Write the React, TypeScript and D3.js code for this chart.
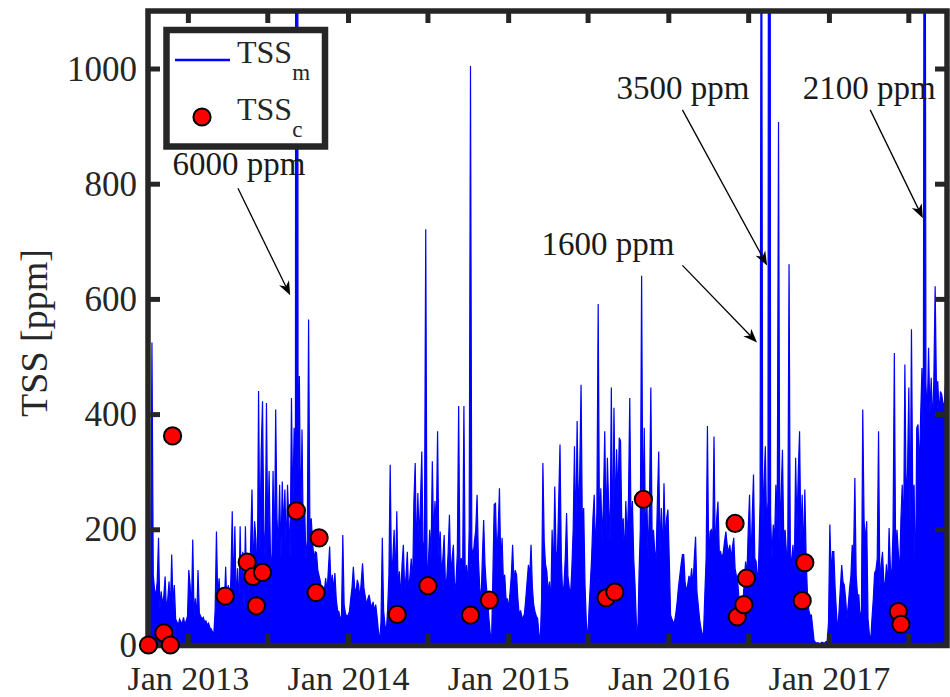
import React, { useEffect, useRef } from 'react';
import * as d3 from 'd3';

// modelled TSS (ppm), one value every 3 days starting 1 Oct 2012
const seriesStart = '2012-10-01';
const seriesStepDays = 3;

const tssM2013 = [
  100, 115, 90, 525, 122, 95, 87, 110, 186, 60,
  93, 70, 85, 119, 60, 80, 110, 58, 157, 70,
  104, 45, 40, 35, 45, 40, 38, 48, 35, 42,
  50, 130, 104, 60, 183, 50, 81, 45, 130, 55,
  50, 45, 48, 40, 42, 35, 38, 30, 28, 23,
  20, 60, 197, 80, 116, 70, 81, 100, 70, 136,
  60, 104, 45, 120, 232, 90, 206, 70, 133, 60,
  206, 80, 162, 60, 206, 90, 151, 70, 180, 270,
  120, 215, 183, 100, 441, 160, 336, 423, 200, 150,
  420, 180, 302, 160, 120, 302, 150, 409, 220, 170,
  278, 150, 284, 200, 270, 160, 278, 215, 150, 429,
  230, 377, 250, 6000, 300, 467, 200, 374, 180, 240,
  150, 180,
];
const tssM2014 = [
  565, 200, 220, 180, 150, 162, 160, 130, 120, 110,
  90, 70, 95, 116, 90, 130, 171, 100, 122, 95,
  125, 80, 60, 58, 46, 50, 191, 70, 55, 49,
  52, 58, 80, 100, 136, 99, 90, 113, 104, 80,
  110, 142, 100, 85, 70, 80, 87, 73, 65, 75,
  60, 70, 50, 25, 6, 40, 186, 60, 35, 23,
  60, 120, 313, 120, 150, 200, 110, 232, 100, 128,
  80, 140, 174, 93, 120, 162, 90, 120, 150, 100,
  250, 316, 150, 264, 180, 250, 336, 160, 180, 722,
  120, 142, 200, 150, 319, 180, 250, 200, 371, 150,
  197, 120, 150, 191, 100, 116, 160, 226, 120, 150,
  174, 90, 110, 160, 415, 130, 151, 120, 415, 110,
  139, 100,
];
const tssM2015 = [
  200, 1005, 170, 154, 180, 200, 261, 150, 100, 75,
  150, 217, 140, 104, 80, 46, 20, 6, 120, 244,
  246, 150, 200, 272, 140, 186, 110, 122, 80, 80,
  64, 90, 120, 174, 110, 130, 122, 80, 52, 60,
  50, 46, 55, 80, 110, 139, 120, 174, 100, 70,
  58, 50, 46, 20, 6, 80, 316, 180, 140, 128,
  90, 110, 70, 200, 120, 275, 162, 150, 250, 348,
  150, 87, 104, 150, 229, 120, 100, 87, 133, 200,
  345, 180, 389, 220, 302, 452, 200, 238, 104, 40,
  6, 60, 104, 150, 220, 261, 160, 230, 592, 200,
  272, 180, 250, 371, 200, 325, 240, 180, 447, 162,
  412, 220, 340, 250, 360, 354, 200, 220, 150, 250,
  180, 250,
];
const tssM2016 = [
  429, 200, 250, 150, 104, 40, 6, 120, 200, 641,
  200, 377, 180, 249, 150, 250, 447, 180, 200, 162,
  150, 250, 336, 160, 238, 150, 281, 180, 220, 235,
  150, 52, 45, 40, 40, 55, 75, 100, 120, 140,
  157, 157, 110, 93, 104, 120, 110, 133, 100, 150,
  188, 93, 70, 46, 30, 20, 17, 87, 150, 380,
  140, 197, 200, 180, 362, 150, 220, 249, 160, 162,
  151, 160, 180, 197, 174, 160, 174, 150, 170, 186,
  133, 120, 110, 80, 58, 60, 75, 110, 145, 120,
  200, 261, 140, 220, 296, 150, 145, 104, 150, 250,
  1600, 200, 280, 345, 200, 250, 3500, 226, 150, 209,
  180, 278, 200, 908, 180, 260, 339, 180, 200, 162,
  150, 661,
];
const tssM2017 = [
  150, 150, 174, 120, 325, 200, 300, 371, 180, 261,
  150, 270, 150, 87, 60, 52, 52, 30, 8, 5,
  3, 4, 2, 3, 5, 4, 3, 6, 6, 40,
  209, 120, 162, 162, 100, 58, 23, 60, 100, 139,
  110, 104, 80, 46, 70, 99, 120, 174, 150, 290,
  120, 87, 87, 46, 60, 409, 215, 180, 215, 46,
  20, 6, 46, 80, 125, 130, 150, 371, 100, 140,
  162, 110, 104, 140, 100, 203, 133, 120, 200, 507,
  150, 200, 162, 120, 220, 278, 180, 487, 250, 300,
  447, 200, 548, 250, 278, 87, 377, 383, 300, 400,
  481, 350, 2100, 452, 400, 516, 400, 464, 380, 460,
  623, 441, 458, 400, 440, 435, 418, 420, 460,
];

// sampled TSS (ppm)
const tssCDates = [
  '2012-10-02', '2012-11-06', '2012-11-21', '2012-11-26', '2013-03-26',
  '2013-05-15', '2013-05-28', '2013-06-05', '2013-06-19', '2013-09-04',
  '2013-10-19', '2013-10-26', '2014-04-22', '2014-07-01', '2014-10-06',
  '2014-11-18', '2015-08-11', '2015-08-31', '2015-11-04', '2016-05-31',
  '2016-06-05', '2016-06-20', '2016-06-26', '2016-10-31', '2016-11-06',
  '2017-06-07', '2017-06-13',
];
const tssCValues = [
  0, 21, 0, 363, 85,
  144, 119, 68, 126, 233,
  91, 186, 53, 103, 52,
  78, 82, 92, 253, 211,
  49, 70, 116, 77, 143,
  58, 36,
];

const yTicks = [0, 200, 400, 600, 800, 1000];
const xTickDates = [
  '2013-01-01', '2013-07-01', '2014-01-01', '2014-07-01', '2015-01-01',
  '2015-07-01', '2016-01-01', '2016-07-01', '2017-01-01', '2017-07-01',
];
const xTickLabels = ['Jan 2013', '', 'Jan 2014', '', 'Jan 2015', '', 'Jan 2016', '', 'Jan 2017', ''];

const noteLabels = ['6000 ppm', '3500 ppm', '1600 ppm', '2100 ppm'];
const noteTextAt: [string, number][] = [['2012-11-26', 816], ['2015-09-04', 948], ['2015-03-17', 677], ['2016-11-01', 948]];
const noteFrom: [string, number][] = [['2013-04-24', 793], ['2016-02-01', 929], ['2016-02-01', 659], ['2017-04-04', 929]];
const noteTo: [string, number][] = [['2013-08-21', 607], ['2016-08-12', 659], ['2016-07-20', 525], ['2017-08-02', 741]];

const W = 950;
const H = 697;
const plot = { left: 148, right: 947, top: 11.4, bottom: 645 };
const ink = '#262626';
const font = '"Liberation Serif", "Times New Roman", serif';

export default function App() {
  const ref = useRef<SVGSVGElement | null>(null);

  useEffect(() => {
    const svg = d3.select(ref.current);
    svg.selectAll('*').remove();

    const parse = d3.utcParse('%Y-%m-%d');
    const start = parse(seriesStart) as Date;
    const values = [...tssM2013, ...tssM2014, ...tssM2015, ...tssM2016, ...tssM2017];
    const tss = values.map((v, i) => ({ date: d3.utcDay.offset(start, i * seriesStepDays), value: v }));

    const x = d3.scaleUtc()
      .domain([start, parse('2017-09-26') as Date])
      .range([plot.left, plot.right]);
    const y = d3.scaleLinear().domain([0, 1100]).range([plot.bottom, plot.top]);

    svg.append('clipPath').attr('id', 'plot-clip')
      .append('rect')
      .attr('x', plot.left).attr('y', plot.top)
      .attr('width', plot.right - plot.left).attr('height', plot.bottom - plot.top);

    const g = svg.append('g').attr('clip-path', 'url(#plot-clip)');

    const area = d3.area<{ date: Date; value: number }>()
      .x((d) => x(d.date))
      .y0(y(0))
      .y1((d) => y(d.value));
    const line = d3.line<{ date: Date; value: number }>()
      .x((d) => x(d.date))
      .y((d) => y(d.value));

    g.append('path').datum(tss).attr('d', area).attr('fill', '#0000ff');
    g.append('path').datum(tss).attr('d', line)
      .attr('fill', 'none').attr('stroke', '#0000ff').attr('stroke-width', 1.2);

    // frame + ticks (ticks point inward on all sides)
    svg.append('rect')
      .attr('x', plot.left).attr('y', 11)
      .attr('width', plot.right - plot.left).attr('height', 634.5)
      .attr('fill', 'none').attr('stroke', ink).attr('stroke-width', 5.5);

    const tickLen = 12;
    yTicks.forEach((t) => {
      svg.append('line').attr('x1', plot.left).attr('x2', plot.left + tickLen)
        .attr('y1', y(t)).attr('y2', y(t)).attr('stroke', ink).attr('stroke-width', 5);
      svg.append('line').attr('x1', plot.right).attr('x2', plot.right - tickLen)
        .attr('y1', y(t)).attr('y2', y(t)).attr('stroke', ink).attr('stroke-width', 5);
      svg.append('text')
        .attr('x', plot.left - 11).attr('y', y(t)).attr('dy', '0.33em')
        .attr('text-anchor', 'end').attr('font-family', font).attr('font-size', 35)
        .attr('fill', ink).text(t);
    });

    xTickDates.forEach((s, i) => {
      const px = x(parse(s) as Date);
      svg.append('line').attr('x1', px).attr('x2', px)
        .attr('y1', 645.5).attr('y2', 645.5 - tickLen).attr('stroke', ink).attr('stroke-width', 5);
      svg.append('line').attr('x1', px).attr('x2', px)
        .attr('y1', 11).attr('y2', 11 + tickLen).attr('stroke', ink).attr('stroke-width', 5);
      if (xTickLabels[i]) {
        svg.append('text')
          .attr('x', px).attr('y', 690)
          .attr('text-anchor', 'middle').attr('font-family', font).attr('font-size', 34)
          .attr('fill', ink).text(xTickLabels[i]);
      }
    });

    svg.append('text')
      .attr('transform', 'translate(47,333) rotate(-90)')
      .attr('text-anchor', 'middle').attr('font-family', font).attr('font-size', 38)
      .attr('fill', ink).text('TSS [ppm]');

    // sampled points
    svg.append('g').selectAll('circle')
      .data(tssCDates.map((s, i) => ({ date: parse(s) as Date, value: tssCValues[i] })))
      .enter()
      .append('circle')
      .attr('cx', (d) => x(d.date))
      .attr('cy', (d) => y(d.value))
      .attr('r', 8.6)
      .attr('fill', '#ff0000')
      .attr('stroke', '#000')
      .attr('stroke-width', 2);

    // legend
    const lg = svg.append('g');
    lg.append('rect').attr('x', 166.5).attr('y', 30).attr('width', 158.5).attr('height', 116.5)
      .attr('fill', '#fff').attr('stroke', ink).attr('stroke-width', 6.5);
    lg.append('line').attr('x1', 175).attr('x2', 230).attr('y1', 60).attr('y2', 60)
      .attr('stroke', '#0000ff').attr('stroke-width', 2.5);
    lg.append('circle').attr('cx', 202).attr('cy', 117).attr('r', 8.6)
      .attr('fill', '#ff0000').attr('stroke', '#000').attr('stroke-width', 2);
    const legendText = (yBase: number, sub: string) => {
      const t = lg.append('text').attr('x', 237).attr('y', yBase)
        .attr('font-family', font).attr('font-size', 32).attr('fill', ink);
      t.append('tspan').text('TSS');
      t.append('tspan').attr('dy', 17).attr('font-size', 23).text(sub);
    };
    legendText(63, 'm');
    legendText(120, 'c');

    // annotations with arrows
    const pt = (p: [string, number]) => [x(parse(p[0]) as Date), y(p[1])];
    noteLabels.forEach((label, i) => {
      const [tx, ty] = pt(noteTextAt[i]);
      svg.append('text').attr('x', tx).attr('y', ty)
        .attr('font-family', font).attr('font-size', 33).attr('fill', '#1a1a1a').text(label);
      const [x1, y1] = pt(noteFrom[i]);
      const [x2, y2] = pt(noteTo[i]);
      const len = Math.hypot(x2 - x1, y2 - y1);
      const ux = (x2 - x1) / len;
      const uy = (y2 - y1) / len;
      const head = 14;
      const half = 5.5;
      svg.append('line')
        .attr('x1', x1).attr('y1', y1)
        .attr('x2', x2 - ux * head * 0.7).attr('y2', y2 - uy * head * 0.7)
        .attr('stroke', '#000').attr('stroke-width', 1.3);
      const bx = x2 - ux * head;
      const by = y2 - uy * head;
      const nx = x2 - ux * head * 0.7;
      const ny = y2 - uy * head * 0.7;
      svg.append('path')
        .attr('d', `M${x2},${y2}L${bx - uy * half},${by + ux * half}L${nx},${ny}L${bx + uy * half},${by - ux * half}Z`)
        .attr('fill', '#000');
    });
  }, []);

  return (
    <svg
      ref={ref}
      width={W}
      height={H}
      style={{ position: 'absolute', left: 0, top: 0, background: '#fff' }}
    />
  );
}
